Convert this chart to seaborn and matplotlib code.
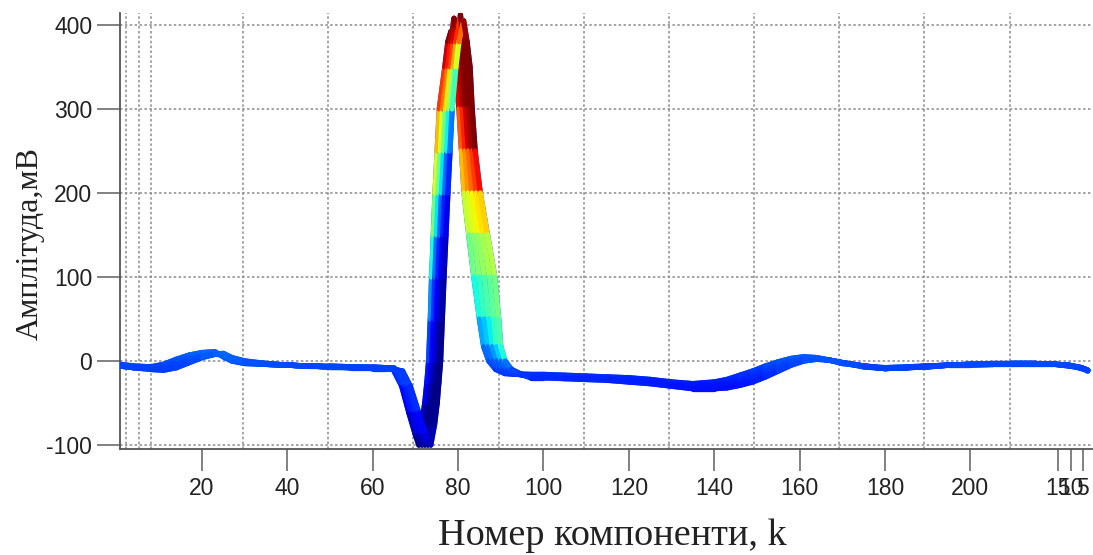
import numpy as np
import pandas as pd
import matplotlib
matplotlib.use("Agg")
import matplotlib.pyplot as plt
import seaborn as sns
from matplotlib.collections import LineCollection
from matplotlib.colors import Normalize

# ---------------- data ----------------
pre_k = [0.8, 4, 8, 11, 14, 17, 20, 23, 25, 27, 30, 35, 40, 45, 50, 55, 60, 63, 65]
post_k = [97, 100, 105, 110, 115, 120, 125, 130, 135, 140, 143, 146, 149, 152, 155,
          158, 161, 164, 167, 170, 175, 180, 185, 190, 195, 200, 205, 210, 215, 220,
          223, 226, 227.5]
q_levels = [-12, -30, -62, -88, -100]
rise_levels = [-75, -50, -25, 0, 50, 100, 150, 200, 250, 300, 350, 380]
fall_levels = [380, 350, 300, 250, 200, 150, 100, 50, 17, 0, -10, -15]

beat1_pre = [-4, -6, -7, -4, 2, 7, 10, 11, 5, 0, -3, -4, -5, -6, -7, -7, -7, -8, -8]
beat2_pre = [-5, -7, -8, -6, -1, 4, 8, 10, 6, 1, -2, -4, -5, -6, -6, -7, -8, -8, -9]
beat3_pre = [-5, -7, -9, -8, -4, 2, 6, 9, 7, 2, -2, -3, -5, -6, -7, -7, -8, -8, -9]
beat4_pre = [-6, -8, -9, -9, -6, 0, 5, 8, 8, 3, -1, -4, -5, -6, -7, -8, -8, -9, -10]
beat5_pre = [-6, -8, -10, -11, -8, -2, 4, 8, 9, 4, 0, -3, -5, -6, -7, -8, -9, -9, -10]

beat1_q_k = [65.0, 66.8, 68.5, 70.0, 70.8]
beat2_q_k = [65.5, 67.3, 69.1, 70.6, 71.5]
beat3_q_k = [66.0, 67.8, 69.7, 71.2, 72.2]
beat4_q_k = [66.5, 68.3, 70.25, 71.8, 72.9]
beat5_q_k = [67.0, 68.8, 70.8, 72.4, 73.6]

beat1_rise_k = [71.5, 72.2, 72.7, 73.1, 73.5, 73.8, 74.2, 74.6, 75.1, 75.6, 76.9, 77.6]
beat2_rise_k = [72.25, 72.93, 73.4, 73.8, 74.2, 74.53, 74.94, 75.35, 75.85, 76.35, 77.55, 78.25]
beat3_rise_k = [73.0, 73.65, 74.1, 74.5, 74.9, 75.25, 75.68, 76.1, 76.6, 77.1, 78.2, 78.9]
beat4_rise_k = [73.75, 74.38, 74.8, 75.2, 75.6, 75.98, 76.41, 76.85, 77.35, 77.85, 78.85, 79.55]
beat5_rise_k = [74.5, 75.1, 75.5, 75.9, 76.3, 76.7, 77.15, 77.6, 78.1, 78.6, 79.5, 80.2]

peak_k = [78.3, 79.05, 79.8, 80.55, 81.3]
peak_amp = [392, 408, 398, 412, 405]

beat1_fall_k = [79.0, 79.6, 80.2, 80.8, 81.4, 82.5, 83.7, 85.0, 86.0, 87.2, 88.8, 91.0]
beat2_fall_k = [79.78, 80.4, 80.98, 81.6, 82.35, 83.6, 84.93, 86.13, 87.0, 88.15, 89.73, 91.88]
beat3_fall_k = [80.55, 81.2, 81.75, 82.4, 83.3, 84.7, 86.15, 87.25, 88.0, 89.1, 90.65, 92.75]
beat4_fall_k = [81.33, 82.0, 82.53, 83.2, 84.25, 85.8, 87.38, 88.38, 89.0, 90.05, 91.58, 93.63]
beat5_fall_k = [82.1, 82.8, 83.3, 84.0, 85.2, 86.9, 88.6, 89.5, 90.0, 91.0, 92.5, 94.5]

beat1_post = [-16, -16, -17, -18, -19, -20, -22, -25, -27, -25, -22, -17, -12, -6, -1, 3, 5, 4,
              1, -2, -6, -8, -7, -6, -5, -4, -4, -3, -3, -4, -5, -8, -11]
beat2_post = [-17, -17, -18, -19, -20, -22, -24, -27, -29, -27, -25, -20, -15, -9, -3, 2, 4, 3,
              1, -2, -6, -9, -8, -6, -5, -4, -3, -3, -3, -4, -5, -8, -11]
beat3_post = [-18, -18, -19, -20, -21, -23, -25, -28, -30, -29, -27, -23, -18, -12, -6, 0, 3, 3,
              1, -2, -6, -9, -8, -6, -5, -4, -4, -3, -3, -4, -6, -8, -11]
beat4_post = [-19, -19, -20, -21, -22, -24, -26, -29, -31, -31, -29, -26, -21, -15, -9, -2, 2, 3,
              1, -3, -6, -9, -8, -7, -5, -5, -4, -3, -3, -4, -5, -8, -12]
beat5_post = [-20, -20, -21, -22, -23, -25, -27, -30, -33, -33, -32, -29, -25, -19, -12, -5, 0, 2,
              1, -2, -7, -9, -8, -7, -5, -4, -4, -4, -4, -4, -5, -9, -11]

y_ticks = [-100, 0, 100, 200, 300, 400]
x_ticks = [20, 40, 60, 80, 100, 120, 140, 160, 180, 200, 220.5, 223.5, 226.3]
x_tick_labels = ["20", "40", "60", "80", "100", "120", "140", "160", "180", "200",
                 "15", "10", "5"]
v_grid = [2.2, 5.3, 8.1, 29.6, 49.6, 69.5, 89.5, 109.4, 129.4, 149.3, 169.3, 189.2, 209.2]

# ---------------- assemble beats ----------------
beat_parts = [
    (beat1_pre, beat1_q_k, beat1_rise_k, beat1_fall_k, beat1_post),
    (beat2_pre, beat2_q_k, beat2_rise_k, beat2_fall_k, beat2_post),
    (beat3_pre, beat3_q_k, beat3_rise_k, beat3_fall_k, beat3_post),
    (beat4_pre, beat4_q_k, beat4_rise_k, beat4_fall_k, beat4_post),
    (beat5_pre, beat5_q_k, beat5_rise_k, beat5_fall_k, beat5_post),
]
beats = []
rows = []
for i, (pre, qk, rk, fk, post) in enumerate(beat_parts):
    ks = pre_k + qk + rk + [peak_k[i]] + fk + post_k
    amps = pre + q_levels + rise_levels + [peak_amp[i]] + fall_levels + post
    beats.append((np.array(ks, float), np.array(amps, float)))
    for k, a in zip(ks, amps):
        rows.append({"beat": i, "k": k, "amp": a})
df = pd.DataFrame(rows)

# ---------------- figure ----------------
sns.set_style("white")
plt.rcParams['font.family'] = ['Liberation Sans', 'DejaVu Sans']
plt.rcParams['axes.unicode_minus'] = False

W, H = 1093, 555
fig = plt.figure(figsize=(W / 100, H / 100), dpi=100)
ax = fig.add_axes([120 / W, 106 / H, 972 / W, 436 / H])

cmap = plt.get_cmap('jet')
norm = Normalize(-100, 385)
lw = 3.8

sns.lineplot(data=df, x="k", y="amp", units="beat", estimator=None, sort=False,
             color=cmap(norm(-5)), lw=lw, ax=ax, legend=False, zorder=2)

# colour shading: each strand takes its colour from a slightly earlier point
color_lag = [0.3, 0.8, 1.3, 1.8, 2.3]
for i, (ks, amps) in enumerate(beats):
    pts = np.column_stack([ks, amps])
    segs = np.stack([pts[:-1], pts[1:]], axis=1)
    mid = (ks[:-1] + ks[1:]) / 2
    lag = np.where(mid > peak_k[i], 0.72 * color_lag[i], color_lag[i])
    cval = np.interp(mid - lag, ks, amps)
    lc = LineCollection(segs, colors=cmap(norm(cval)), linewidths=lw,
                        capstyle='round', joinstyle='round', zorder=3 + i)
    ax.add_collection(lc)

ax.set_xlim(0.8, 228.5)
ax.set_ylim(-104.8, 414.3)

# grid
grid_kw = dict(color='#8a8a8a', lw=1.1, linestyle=(0, (1.6, 1.6)), zorder=1)
for y in y_ticks:
    ax.axhline(y, **grid_kw)
for x in v_grid:
    ax.axvline(x, **grid_kw)

ax.set_yticks(y_ticks)
ax.set_xticks(x_ticks)
ax.set_xticklabels(x_tick_labels)

for s in ['top', 'right']:
    ax.spines[s].set_visible(False)
for s in ['left', 'bottom']:
    ax.spines[s].set_color('#555555')
    ax.spines[s].set_linewidth(1.3)

ax.tick_params(axis='y', direction='out', length=16.5, width=1.3, color='#777777',
               pad=3.5, labelsize=16.5, labelcolor='#222222', left=True)
ax.tick_params(axis='x', direction='out', length=15.5, width=1.3, color='#777777',
               pad=4.5, labelsize=16.5, labelcolor='#222222', bottom=True)

ax.set_xlabel('Номер компоненти, k', fontsize=27.5, family=['Liberation Serif', 'DejaVu Serif'],
              color='#222222')
ax.xaxis.set_label_coords(0.507, -0.160)
ax.set_ylabel('Амплітуда,мВ', fontsize=23, family=['Liberation Serif', 'DejaVu Serif'],
              color='#222222')
ax.yaxis.set_label_coords(-0.077, 0.472)

fig.savefig('out.png', dpi=100)
